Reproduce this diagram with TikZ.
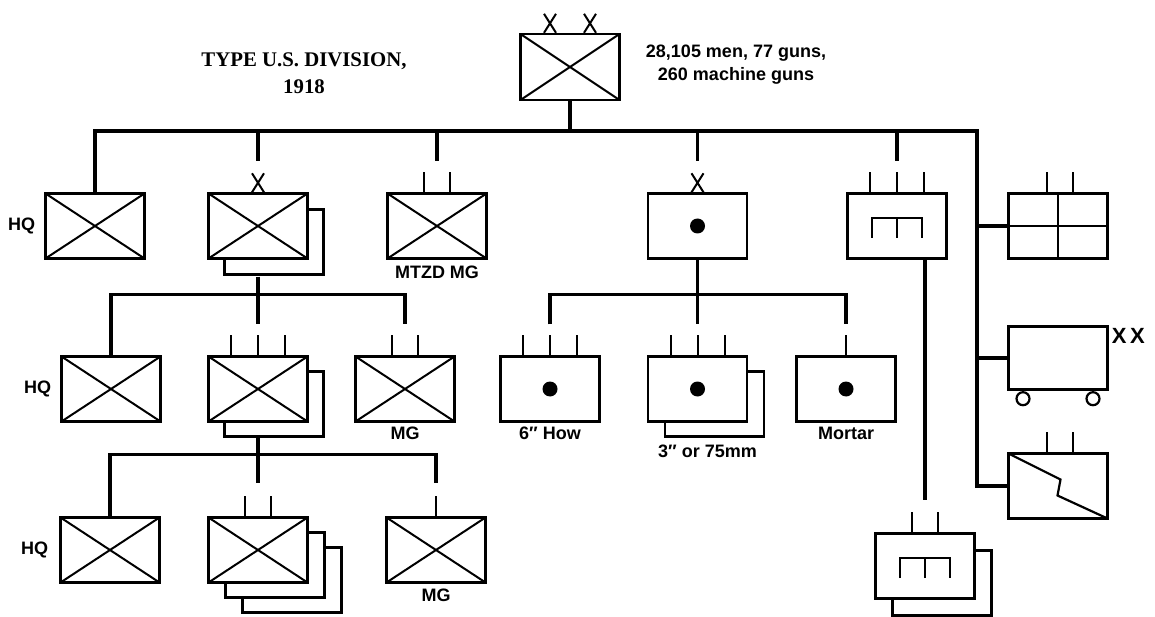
\documentclass[tikz,border=0pt]{standalone}
\usepackage{fontspec}
\setmainfont{Liberation Serif}
\setsansfont{Liberation Sans}
\usetikzlibrary{positioning, calc, shadows}

% echelon marks over a unit box
\newcommand{\echI}[1]{\draw[tick] (#1.north) -- ++(0,-20);}
\newcommand{\echII}[2][0]{\draw[tick] ([xshift=#1pt-13pt]#2.north) -- ++(0,-20) ([xshift=#1pt+13pt]#2.north) -- ++(0,-20);}
\newcommand{\echIII}[1]{\draw[tick] ([xshift=-27pt]#1.north) -- ++(0,-20) (#1.north) -- ++(0,-20) ([xshift=27pt]#1.north) -- ++(0,-20);}
\newcommand{\echX}[2][0]{\draw[tick] ([xshift=#1pt-6pt]#2.north) -- ++(12,-19) ([xshift=#1pt+6pt]#2.north) -- ++(-12,-19);}

\tikzset{
  unit/.style={draw, line width=2.4pt, fill=white, minimum width=99pt, minimum height=65pt, inner sep=0pt},
  inf/.style={unit, path picture={\draw[line width=2pt] (path picture bounding box.north west) -- (path picture bounding box.south east) (path picture bounding box.south west) -- (path picture bounding box.north east);}},
  arty/.style={unit, path picture={\fill[black] (path picture bounding box.center) circle (7.5pt);}},
  engr/.style={unit, path picture={\draw[line width=2.2pt] ([shift={(-25,12)}]path picture bounding box.center) -- ++(0,-20) -- ++(50,0) -- ++(0,20) ([shift={(0,12)}]path picture bounding box.center) -- ++(0,-20);}},
  sigq/.style={unit, path picture={\draw[line width=2.2pt] (path picture bounding box.north) -- (path picture bounding box.south) (path picture bounding box.west) -- (path picture bounding box.east);}},
  radio/.style={unit, path picture={\draw[line width=2.2pt] (path picture bounding box.north west) -- ++(52,26) -- ++(-3,16) -- (path picture bounding box.south east);}},
  shd/.style={copy shadow={shadow xshift=16pt, shadow yshift=-16pt, draw=black, line width=2.4pt, fill=white}},
  shdd/.style={copy shadow={shadow xshift=34pt, shadow yshift=-30pt, draw=black, line width=2.4pt, fill=white},
               copy shadow={shadow xshift=17pt, shadow yshift=-15pt, draw=black, line width=2.4pt, fill=white}},
  bar/.style={line width=3.2pt},
  tick/.style={line width=2pt},
  lbl/.style={font=\sffamily\bfseries\fontsize{18}{23}\selectfont, inner sep=0pt}
}

\begin{document}
\begin{tikzpicture}[x=1pt, y=-1pt]
  \useasboundingbox (0,0) rectangle (1155,617);

  % division
  \node[inf, minimum height=66pt] (div) at (570,67) {};
  \echX[-20]{div} \echX[20]{div}
  \node[font=\bfseries\fontsize{20.8}{27}\selectfont, align=center, inner sep=0pt] (title) at (304,73) {TYPE U.S. DIVISION,\\1918};
  \node[lbl, align=center] (strength) at (736,65) {28,105 men, 77 guns,\\260 machine guns};

  % first row
  \node[inf] (hq1) at (95,226) {};
  \node[inf, shd] (brig) at (258,226) {};
  \node[inf] (mtzd) at (437,226) {};
  \node[arty] (art) at (697.5,226) {};
  \node[engr] (eng) at (897,226) {};
  \node[sigq] (sig) at (1058,226) {};
  \echX{brig} \echII{mtzd} \echX{art} \echIII{eng} \echII[2]{sig}
  \node[lbl, left=9pt of hq1] {HQ};
  \node[lbl, below=6pt of mtzd] {MTZD MG};

  % second row
  \node[inf] (hq2) at (111,389) {};
  \node[inf, copy shadow={shadow xshift=16pt, shadow yshift=-15pt, draw=black, line width=2.4pt, fill=white}] (regt) at (258,389) {};
  \node[inf] (mg2) at (405,389) {};
  \node[arty] (how) at (550,389) {};
  \node[arty, copy shadow={shadow xshift=17pt, shadow yshift=-15pt, draw=black, line width=2.4pt, fill=white}] (gun) at (697.5,389) {};
  \node[arty] (mort) at (846,389) {};
  \node[unit, minimum height=63pt] (trn) at (1058,358) {};
  \echIII{regt} \echII{mg2} \echIII{how} \echIII{gun} \echI{mort}
  \node[lbl, left=9pt of hq2] {HQ};
  \node[lbl, below=4pt of mg2] {MG};
  \node[lbl, below=4pt of how] {6″ How};
  \node[lbl, below=22pt of gun, xshift=10pt] {3″ or 75mm};
  \node[lbl, below=4pt of mort] {Mortar};
  \node[lbl, font=\sffamily\bfseries\fontsize{22}{26}\selectfont, anchor=north west] at ([xshift=3pt, yshift=-3pt]trn.north east) {X\,X};
  \draw[line width=2.2pt] ([xshift=-35pt, yshift=-8pt]trn.south) circle (6.5pt)
                          ([xshift=35pt, yshift=-8pt]trn.south) circle (6.5pt);

  % third row
  \node[inf] (hq3) at (110,550) {};
  \node[inf, shdd] (bn) at (258,550) {};
  \node[inf] (mg3) at (436,550) {};
  \node[radio] (rad) at (1058,486) {};
  \node[engr, copy shadow={shadow xshift=17pt, shadow yshift=-17pt, draw=black, line width=2.4pt, fill=white}] (engbn) at (925,566) {};
  \echII{bn} \echI{mg3} \echII[2]{rad} \echII{engbn}
  \node[lbl, left=11pt of hq3] {HQ};
  \node[lbl, below=5pt of mg3] {MG};

  % connectors
  \coordinate (rail) at (977,131);
  \draw[bar] (hq1.north) |- (rail) |- (rad.west);
  \draw[bar] (div.south) -- (div.south |- rail);
  \draw[bar] (brig.north |- rail) -- ([yshift=31pt]brig.north);
  \draw[bar] (mtzd.north |- rail) -- ([yshift=31pt]mtzd.north);
  \draw[bar] (art.north |- rail) -- ([yshift=31pt]art.north);
  \draw[bar] (eng.north |- rail) -- ([yshift=31pt]eng.north);
  \draw[bar] (rail |- sig.west) -- (sig.west);
  \draw[bar] (rail |- trn.west) -- (trn.west);
  \draw[bar] (engbn.north |- eng.south) -- ([yshift=32pt]engbn.north);

  \coordinate (bus2) at ([yshift=-35pt]brig.south);
  \draw[bar] ([yshift=-17pt]brig.south) -- (bus2) -- ([yshift=31pt]regt.north);
  \draw[bar] (hq2.north) |- (bus2) -| ([yshift=31pt]mg2.north);

  \coordinate (bus3) at ([yshift=-35pt]art.south);
  \draw[bar] (art.south) -- (bus3) -- ([yshift=31pt]gun.north);
  \draw[bar] ([yshift=31pt]how.north) |- (bus3) -| ([yshift=31pt]mort.north);

  \coordinate (bus4) at ([yshift=-32pt]regt.south);
  \draw[bar] ([yshift=-15pt]regt.south) -- (bus4) -- ([yshift=33pt]bn.north);
  \draw[bar] (hq3.north) |- (bus4) -| ([yshift=33pt]mg3.north);
\end{tikzpicture}
\end{document}
